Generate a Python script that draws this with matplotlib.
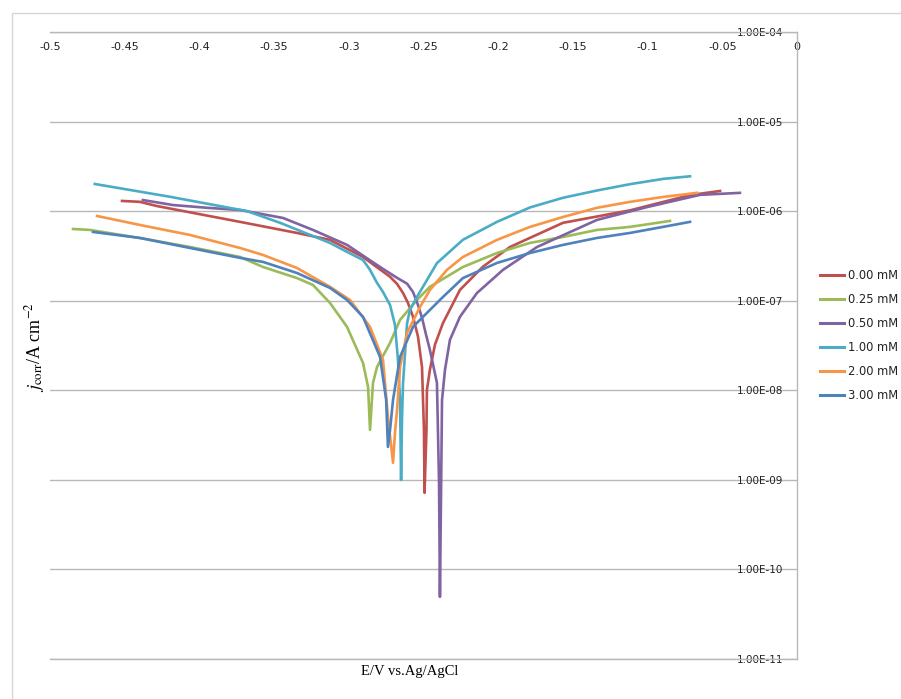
import matplotlib
matplotlib.use("Agg")
import matplotlib.pyplot as plt
from matplotlib.patches import Rectangle

# ---------------- data ----------------
labels = ["0.00 mM", "0.25 mM", "0.50 mM", "1.00 mM", "2.00 mM", "3.00 mM"]
colors = ["#C0504D", "#9BBB59", "#8064A2", "#4BACC6", "#F79646", "#4F81BD"]

E_000 = [-0.4518, -0.4398, -0.4284, -0.3728, -0.3347, -0.3126, -0.2905, -0.2724, -0.2677, -0.2637,
         -0.2604, -0.257, -0.2537, -0.251, -0.2497, -0.2493, -0.248, -0.2477, -0.2457, -0.2423,
         -0.237, -0.2256, -0.2102, -0.1921, -0.1566, -0.1118, -0.0716, -0.0515]
j_000 = [1.30e-6, 1.27e-6, 1.14e-6, 7.59e-7, 5.71e-7, 4.78e-7, 3.08e-7, 1.85e-7, 1.54e-7, 1.22e-7,
         9.44e-8, 6.61e-8, 3.98e-8, 1.82e-8, 3.63e-9, 7.16e-10, 3.63e-9, 1.01e-8, 1.70e-8, 3.24e-8,
         5.62e-8, 1.32e-7, 2.40e-7, 3.98e-7, 7.41e-7, 1.02e-6, 1.51e-6, 1.68e-6]

E_025 = [-0.4846, -0.4732, -0.4398, -0.4063, -0.3728, -0.3574, -0.3347, -0.324, -0.3126, -0.3012,
         -0.2905, -0.2871, -0.2858, -0.2838, -0.2811, -0.2724, -0.2657, -0.2544, -0.2457, -0.2236,
         -0.2008, -0.1787, -0.1566, -0.1339, -0.1118, -0.085]
j_025 = [6.32e-7, 6.17e-7, 5.01e-7, 3.98e-7, 3.08e-7, 2.38e-7, 1.79e-7, 1.50e-7, 9.44e-8, 5.11e-8,
         2.02e-8, 1.09e-8, 3.61e-9, 1.21e-8, 1.82e-8, 3.38e-8, 6.11e-8, 1.02e-7, 1.43e-7, 2.38e-7,
         3.41e-7, 4.42e-7, 5.15e-7, 6.17e-7, 6.67e-7, 7.78e-7]

E_050 = [-0.4378, -0.4177, -0.3949, -0.3728, -0.344, -0.324, -0.3012, -0.2791, -0.2677, -0.261,
         -0.257, -0.2537, -0.251, -0.2483, -0.2457, -0.241, -0.2396, -0.239, -0.2383, -0.2376,
         -0.2356, -0.2323, -0.2256, -0.2142, -0.1968, -0.174, -0.1339, -0.1004, -0.0649, -0.0382]
j_050 = [1.33e-6, 1.17e-6, 1.09e-6, 1.03e-6, 8.39e-7, 6.17e-7, 4.20e-7, 2.38e-7, 1.80e-7, 1.55e-7,
         1.25e-7, 8.97e-8, 6.46e-8, 4.17e-8, 2.82e-8, 1.21e-8, 9.27e-10, 4.94e-11, 6.03e-10, 7.82e-9,
         1.70e-8, 3.66e-8, 6.61e-8, 1.22e-7, 2.21e-7, 3.98e-7, 7.98e-7, 1.11e-6, 1.52e-6, 1.60e-6]

E_100 = [-0.470, -0.420, -0.368, -0.346, -0.3126, -0.3012, -0.2905, -0.2858, -0.2811, -0.2771,
         -0.2724, -0.2691, -0.2671, -0.2657, -0.265, -0.2644, -0.2637, -0.261, -0.259, -0.2544,
         -0.2477, -0.241, -0.2236, -0.2008, -0.1787, -0.1566, -0.1339, -0.1118, -0.0897, -0.0716]
j_100 = [2.01e-6, 1.45e-6, 1.00e-6, 7.41e-7, 4.42e-7, 3.51e-7, 2.85e-7, 2.21e-7, 1.58e-7, 1.25e-7,
         8.97e-8, 5.37e-8, 2.19e-8, 7.76e-9, 1.00e-9, 4.68e-9, 1.20e-8, 5.62e-8, 7.94e-8, 1.10e-7,
         1.70e-7, 2.63e-7, 4.79e-7, 7.59e-7, 1.10e-6, 1.41e-6, 1.70e-6, 2.00e-6, 2.29e-6, 2.45e-6]

E_200 = [-0.4685, -0.4398, -0.4063, -0.3728, -0.3574, -0.3347, -0.3126, -0.2992, -0.2858, -0.2771,
         -0.2738, -0.2704, -0.2691, -0.2677, -0.2657, -0.261, -0.2523, -0.2457, -0.2343, -0.2236,
         -0.2008, -0.1787, -0.1566, -0.1339, -0.1118, -0.0897, -0.0669]
j_200 = [8.83e-7, 7.01e-7, 5.42e-7, 3.88e-7, 3.24e-7, 2.32e-7, 1.43e-7, 1.02e-7, 5.11e-8, 2.18e-8,
         5.05e-9, 1.55e-9, 3.35e-9, 6.04e-9, 1.82e-8, 4.38e-8, 8.53e-8, 1.32e-7, 2.21e-7, 3.08e-7,
         4.78e-7, 6.67e-7, 8.61e-7, 1.09e-6, 1.27e-6, 1.44e-6, 1.60e-6]

E_300 = [-0.4712, -0.4398, -0.4063, -0.3728, -0.3574, -0.3347, -0.3126, -0.3012, -0.2905, -0.2791,
         -0.275, -0.2738, -0.2724, -0.2704, -0.2657, -0.257, -0.2477, -0.237, -0.2236, -0.2008,
         -0.1787, -0.1566, -0.1339, -0.1118, -0.0897, -0.0716]
j_300 = [5.86e-7, 5.02e-7, 3.88e-7, 3.01e-7, 2.71e-7, 2.04e-7, 1.39e-7, 1.02e-7, 6.61e-8, 2.36e-8,
         7.82e-9, 2.33e-9, 3.61e-9, 7.82e-9, 2.36e-8, 5.11e-8, 7.31e-8, 1.10e-7, 1.79e-7, 2.64e-7,
         3.41e-7, 4.20e-7, 5.02e-7, 5.71e-7, 6.67e-7, 7.59e-7]

x_ticks = [-0.5, -0.45, -0.4, -0.35, -0.3, -0.25, -0.2, -0.15, -0.1, -0.05, 0]
x_ticklabels = ["-0.5", "-0.45", "-0.4", "-0.35", "-0.3", "-0.25", "-0.2", "-0.15", "-0.1", "-0.05", "0"]
y_ticks = [1e-4, 1e-5, 1e-6, 1e-7, 1e-8, 1e-9, 1e-10, 1e-11]
y_ticklabels = ["1.00E-04", "1.00E-05", "1.00E-06", "1.00E-07", "1.00E-08", "1.00E-09", "1.00E-10", "1.00E-11"]

x_label = "E/V vs.Ag/AgCl"
y_label = r"$j_{\rm corr}$/A cm$^{-2}$"

series = [(E_000, j_000), (E_025, j_025), (E_050, j_050), (E_100, j_100), (E_200, j_200), (E_300, j_300)]

# ---------------- figure ----------------
plt.rcParams["font.family"] = ["DejaVu Sans"]
plt.rcParams["mathtext.fontset"] = "stix"

W, H = 901, 699
fig = plt.figure(figsize=(W / 100, H / 100), dpi=100)
ax = fig.add_axes([50 / W, 1 - 659 / H, (797 - 50) / W, (659 - 32) / H])

grid_col = "#b8b8b8"
for (E, j), lab, col in zip(series, labels, colors):
    ax.plot(E, j, color=col, lw=1.9, label=lab, solid_joinstyle="round")

ax.set_yscale("log")
ax.set_xlim(-0.5, 0)
ax.set_ylim(1e-11, 1e-4)
ax.yaxis.set_minor_locator(matplotlib.ticker.NullLocator())
ax.set_yticks(y_ticks)
ax.set_yticklabels(y_ticklabels)
ax.set_xticks(x_ticks)
ax.set_xticklabels(x_ticklabels)

ax.yaxis.tick_right()
ax.xaxis.tick_top()
ax.tick_params(axis="y", length=0, pad=-10, labelsize=7.5, labelcolor="#222222")
ax.tick_params(axis="x", length=0, pad=-7.0, labelsize=8, labelcolor="#222222")
for t in ax.get_yticklabels():
    t.set_ha("right")
for t in ax.get_xticklabels():
    t.set_va("top")

ax.yaxis.grid(True, color=grid_col, lw=1.0)
ax.xaxis.grid(False)
ax.set_axisbelow(True)
ax.spines["left"].set_visible(False)
for s in ["top", "right", "bottom"]:
    ax.spines[s].set_color(grid_col)
    ax.spines[s].set_linewidth(1.0)

# chart-area border
fig.add_artist(Rectangle((12 / W, -0.2), 2, 1 - 13 / H + 0.2, transform=fig.transFigure,
                         fill=False, edgecolor="#d6d6d6", lw=1.0))

# axis titles
fig.text(410 / W, 1 - 672 / H, x_label, ha="center", va="center", fontsize=10.5,
         family=["Liberation Serif"])
fig.text(35 / W, 1 - 347 / H, y_label, ha="center", va="center", rotation=90, fontsize=13,
         family=["Liberation Serif"])

# legend
leg = ax.legend(loc="upper left", bbox_to_anchor=(820 / W, 1 - 269 / H), bbox_transform=fig.transFigure,
                frameon=False, fontsize=8.3, handlelength=2.1, handletextpad=0.35, labelspacing=0.95,
                borderpad=0, borderaxespad=0)
for t in leg.get_texts():
    t.set_color("#222222")
for l in leg.get_lines():
    l.set_linewidth(2.2)

fig.savefig("out.png", dpi=100)
